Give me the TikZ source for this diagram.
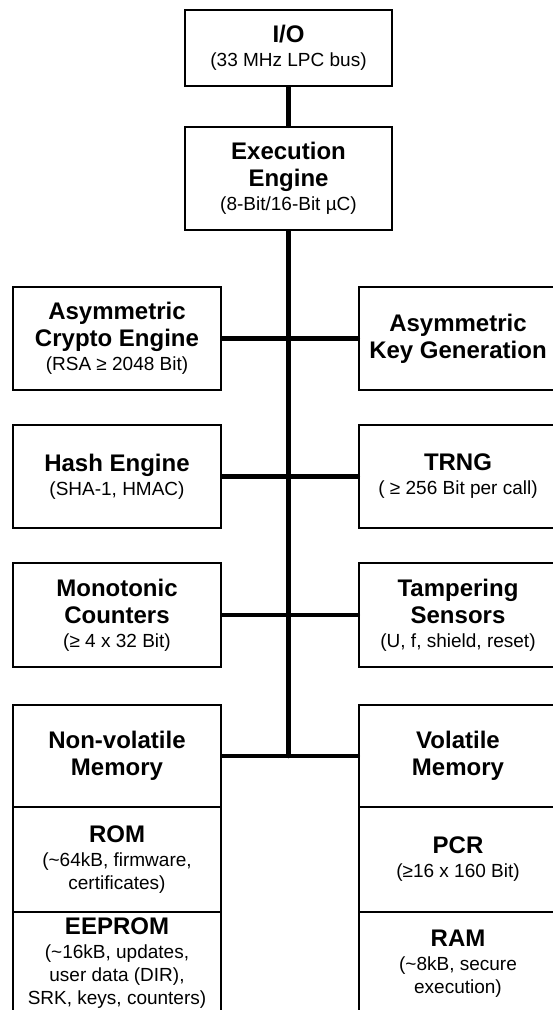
\documentclass[tikz,border=0pt]{standalone}
\usepackage{fontspec}
\setmainfont{Liberation Sans}
\newcommand\tb[1]{{\fontsize{24}{24}\selectfont\bfseries #1}}
\tikzset{
  blk/.style={draw, line width=2.5pt, inner sep=0pt, align=center,
              font=\fontsize{19}{24}\selectfont},
  lcol/.style={blk, minimum width=208pt},
  rcol/.style={blk, minimum width=198pt},
  bus/.style={line width=4.5pt, line cap=round},
}
\begin{document}
\begin{tikzpicture}[x=1pt,y=-1pt]
\useasboundingbox (0,0) rectangle (553,1010);
% top column
\node[blk, minimum width=207pt, minimum height=76pt] (io) at (288.5,48)
  {\tb{I/O}\\(33 MHz LPC bus)};
\node[blk, minimum width=207pt, minimum height=103pt] (ex) at (288.5,178.5)
  {\tb{Execution}\\[3pt]\tb{Engine}\\(8-Bit/16-Bit µC)};
% row 1
\node[lcol, minimum height=103pt] (ace) at (117,338.5)
  {\tb{Asymmetric}\\[3pt]\tb{Crypto Engine}\\(RSA ≥ 2048 Bit)};
\node[rcol, minimum height=103pt] (akg) at (458,338.5)
  {\tb{Asymmetric}\\[3pt]\tb{Key Generation}};
% row 2
\node[lcol, minimum height=103pt] (hash) at (117,476.5)
  {\tb{Hash Engine}\\(SHA-1, HMAC)};
\node[rcol, minimum height=103pt] (trng) at (458,476.5)
  {\tb{TRNG}\\( ≥ 256 Bit per call)};
% row 3
\node[lcol, minimum height=104pt] (mono) at (117,615)
  {\tb{Monotonic}\\[3pt]\tb{Counters}\\(≥ 4 x 32 Bit)};
\node[rcol, minimum height=104pt] (tamp) at (458,615)
  {\tb{Tampering}\\[3pt]\tb{Sensors}\\(U, f, shield, reset)};
% memory
\node[lcol, minimum height=102pt] (nvm) at (117,756)
  {\tb{Non-volatile}\\[3pt]\tb{Memory}};
\node[rcol, minimum height=102pt] (vm) at (458,756)
  {\tb{Volatile}\\[3pt]\tb{Memory}};
\node[lcol, minimum height=105pt] (rom) at (117,859.5)
  {\tb{ROM}\\(\textasciitilde 64kB, firmware,\\[-1pt]certificates)};
\node[rcol, minimum height=105pt] (pcr) at (458,859.5)
  {\tb{PCR}\\(≥16 x 160 Bit)};
\node[lcol, minimum height=103pt] (eep) at (117,963.5)
  {\tb{EEPROM}\\(\textasciitilde 16kB, updates,\\[-1pt]user data (DIR),\\[-1pt]SRK, keys, counters)};
\node[rcol, minimum height=103pt] (ram) at (458,963.5)
  {\tb{RAM}\\(\textasciitilde 8kB, secure\\[-1pt]execution)};
% connectors
\coordinate (busend) at (ex.south |- nvm.east);
\draw[bus] (io.south) -- (ex.north);
\draw[bus] (ex.south) -- (busend);
\draw[bus] (ace.east) -- (akg.west);
\draw[bus] (hash.east) -- (trng.west);
\draw[bus] (mono.east) -- (tamp.west);
\draw[bus] (nvm.east) -- (vm.west);
\end{tikzpicture}
\end{document}
